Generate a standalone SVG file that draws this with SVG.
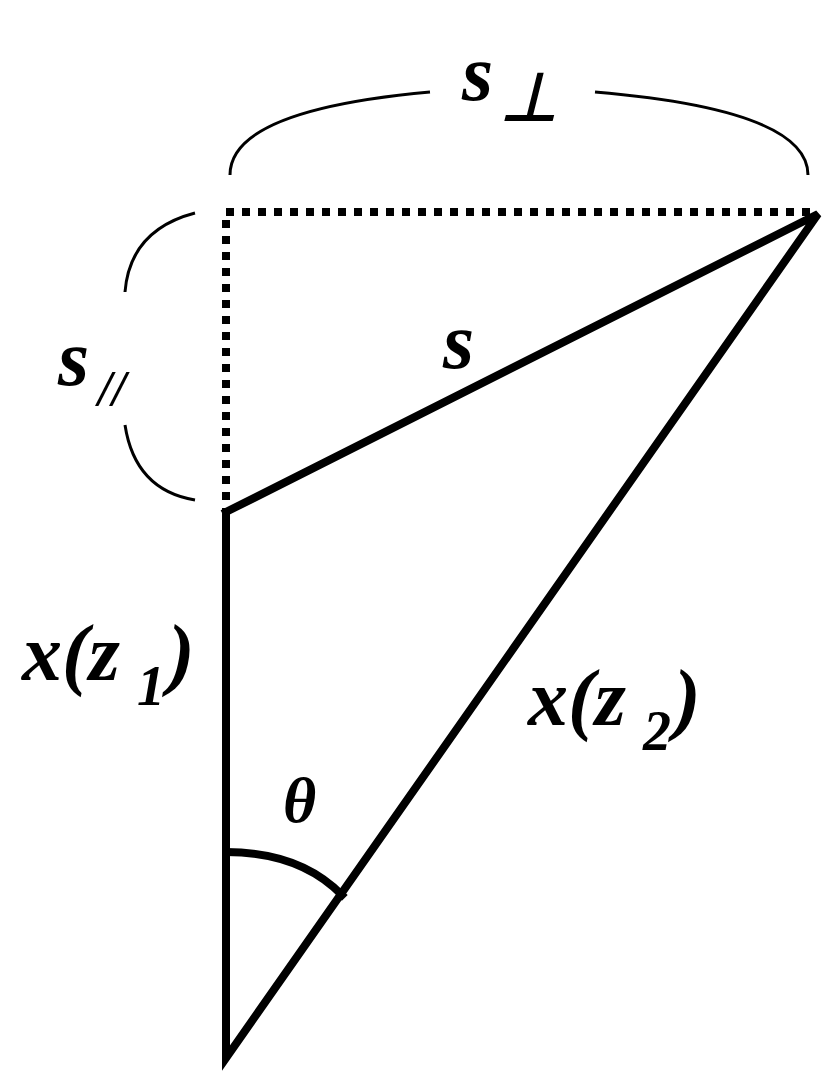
<svg xmlns="http://www.w3.org/2000/svg" width="830" height="1076" viewBox="0 0 830 1076">
<style>
.t{font-family:"Liberation Serif",serif;font-weight:bold;font-style:italic;fill:#000}
.l{stroke:#000;stroke-width:8;fill:none;stroke-linecap:square}
.d{stroke:#000;stroke-width:8;fill:none;stroke-dasharray:8 8}
.b{stroke:#000;stroke-width:3;fill:none}
</style>
<rect width="830" height="1076" fill="#fff"/>
<g id="connectors">
<path class="d" d="M226 212 H818"/>
<path class="d" d="M226 220 V505"/>
<path class="l" d="M226 512 V1058 L818 214 L226 512"/>
<path class="l" d="M226 852 Q300 852 342 895" stroke-width="7"/>
<path class="b" d="M230 175 Q230 110 430 92"/>
<path class="b" d="M595 92 Q808 110 808 175"/>
<path class="b" d="M195 213 Q130 230 125 292"/>
<path class="b" d="M125 425 Q135 490 195 500"/>
</g>
<g id="labels">
<text class="t" x="462" y="100" font-size="80">s</text>
<text class="t" x="500" y="120" font-size="66" font-style="normal">⊥</text>
<text class="t" x="58" y="385" font-size="80">s</text>
<text class="t" x="98" y="405" font-size="50">//</text>
<text class="t" x="443" y="368" font-size="80">s</text>
<text class="t" x="22" y="680" font-size="80">x(z</text>
<text class="t" x="137" y="705" font-size="56" font-style="normal">1</text>
<text class="t" x="168" y="680" font-size="80">)</text>
<text class="t" x="528" y="725" font-size="80">x(z</text>
<text class="t" x="643" y="750" font-size="56" font-style="normal">2</text>
<text class="t" x="674" y="725" font-size="80">)</text>
<text class="t" x="283" y="822" font-size="64" font-weight="normal">θ</text>
</g>
</svg>
